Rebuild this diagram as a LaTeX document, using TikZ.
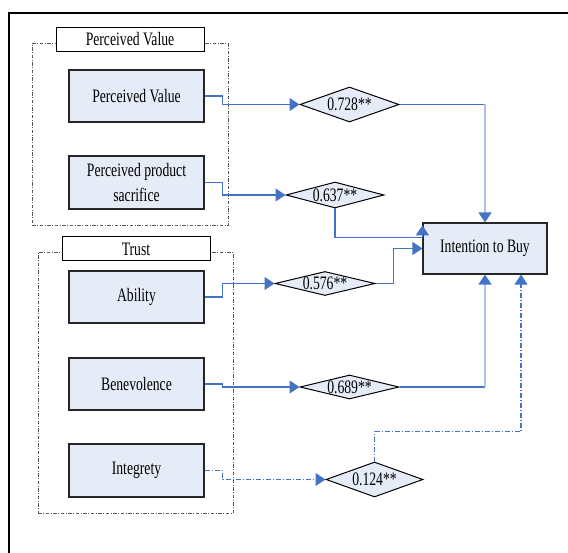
\documentclass[tikz,border=0pt]{standalone}
\usepackage{fontspec}
\setmainfont{Liberation Serif}[FakeStretch=0.72]
\usetikzlibrary{shapes.geometric,arrows.meta,calc}
\definecolor{boxfill}{HTML}{E6ECF7}
\definecolor{linkblue}{HTML}{4472C4}
\definecolor{linklight}{HTML}{A9C2E8}
\definecolor{grpgray}{HTML}{555555}
\tikzset{
  txt/.style={font=\fontsize{19}{25}\selectfont},
  factor/.style={txt, draw=black!85, line width=1.2pt, fill=boxfill,
    minimum width=135pt, minimum height=52pt, inner sep=0pt, align=center},
  title/.style={txt, draw=black, line width=1pt, fill=white,
    minimum width=148pt, minimum height=24pt, inner sep=0pt},
  group/.style={draw=grpgray, line width=1pt,
    dash pattern=on 3.5pt off 1.5pt on 1pt off 1.5pt, inner sep=0pt},
  coef/.style={txt, diamond, aspect=4, draw=black, line width=1pt,
    fill=boxfill, inner sep=0pt},
  tip/.style={-{Triangle[length=10pt,width=13pt,color=linkblue]}},
  link/.style={draw=linkblue, line width=1.3pt},
  lightlink/.style={draw=linklight, line width=1.5pt},
  dotlink/.style={draw=linkblue, line width=1.1pt,
    dash pattern=on 5pt off 2pt on 1pt off 2pt},
}
\begin{document}
\begin{tikzpicture}[x=1pt,y=-1pt]
\useasboundingbox (0,0) rectangle (568,553);

% outer frame (only its top-left corner lies inside the page)
\draw[line width=2pt] (8.5,570) -- (8.5,13.5) -- (580,13.5);

% construct groups
\node[group, minimum width=196pt, minimum height=182pt] (g1) at (130,135) {};
\node[group, minimum width=195pt, minimum height=260pt] (g2) at (135.5,383) {};
\node[title] (t1) at (130,39.5) {Perceived Value};
\node[title] (t2) at (136,249) {Trust};

% factors
\node[factor] (pv)  at (136.5,96)    {Perceived Value};
\node[factor, minimum height=53pt] (pps) at (136.5,182.5) {Perceived product\\sacrifice};
\node[factor] (ab)  at (136.5,297)   {Ability};
\node[factor] (be)  at (136.5,384)   {Benevolence};
\node[factor, minimum height=53pt] (ig) at (136.5,470.5) {Integrety};

% outcome
\node[factor, minimum width=124pt, minimum height=51pt] (ib) at (485,248.5) {Intention to Buy};

% path coefficients
\node[coef, minimum width=99pt, minimum height=35pt]  (d1) at (349.5,104.5) {0.728**};
\node[coef, minimum width=98pt, minimum height=26pt]  (d2) at (335,195)     {0.637**};
\node[coef, minimum width=100pt, minimum height=24pt] (d3) at (325,283.5)   {0.576**};
\node[coef, minimum width=99pt, minimum height=24pt]  (d4) at (349.5,387)   {0.689**};
\node[coef, minimum width=97pt, minimum height=35pt]  (d5) at (374.5,479.5) {0.124**};

% factor -> coefficient
\draw[link, tip] (pv.east)  -- ++(18,0) |- (d1.west);
\draw[link, tip] (pps.east) -- ++(18,0) |- (d2.west);
\draw[link, tip] (ab.east)  -- ++(18,0) |- (d3.west);
\draw[link, tip] (be.east)  -- ++(18,0) |- (d4.west);
\draw[dotlink, tip] (ig.east) -- ++(18,0) |- (d5.west);

% coefficient -> intention
\draw[link] (d1.east) -- (d1.east -| ib.north);
\draw[lightlink, tip] (d1.east -| ib.north) -- (ib.north);
\draw[link, tip] (d2.south) |- ([yshift=-15pt]ib.north west) -- ([yshift=-3pt]ib.north west);
\draw[link, tip] (d3.east) -- ++(18,0) |- (ib.west);
\draw[link] (d4.east) -- (d4.east -| ib.south);
\draw[lightlink, tip] (d4.east -| ib.south) -- (ib.south);
\draw[dotlink, tip] (d5.north) -- ++(0,-30) -| ([xshift=36pt]ib.south);
\end{tikzpicture}
\end{document}
